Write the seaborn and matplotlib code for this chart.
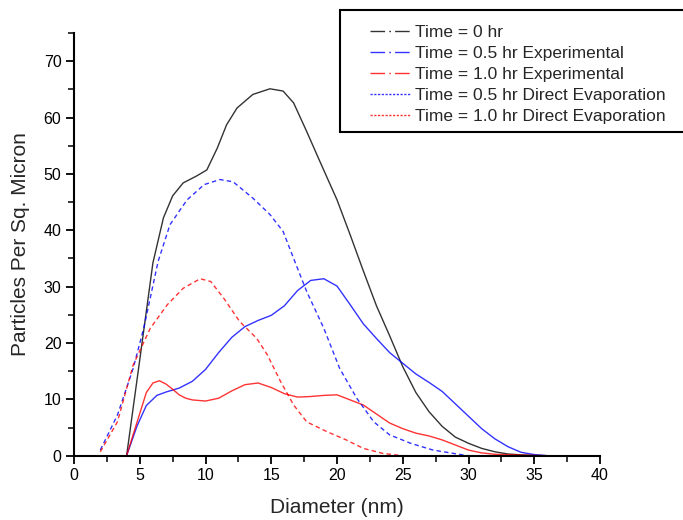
import matplotlib
matplotlib.use("Agg")
import matplotlib.pyplot as plt
from matplotlib.lines import Line2D
from matplotlib.patches import Rectangle
from matplotlib.ticker import MultipleLocator
import seaborn as sns
import pandas as pd

# ---- data ----
x_black = [4, 5, 6, 6.8, 7.5, 8.3, 9.3, 10.1, 10.9, 11.6, 12.4, 13.6, 14.9, 15.9, 16.7,
           17.7, 18.7, 20, 21, 22, 23, 24, 25, 26, 27, 28, 29, 30, 31, 32, 33, 34, 35, 36]
y_black = [0, 17, 34.2, 42.2, 46.1, 48.4, 49.6, 50.7, 54.6, 58.7, 61.7, 64.1, 65.1, 64.7,
           62.6, 57.5, 52.2, 45.4, 39.2, 32.8, 26.6, 21.3, 15.8, 11.2, 7.8, 5.2, 3.3, 2.2,
           1.3, 0.7, 0.3, 0.15, 0.05, 0]

x_blue = [4, 4.8, 5.5, 6.3, 7, 8, 9, 10, 11, 12, 13, 14, 15, 16, 17, 18, 19, 20, 21, 22,
          23, 24, 25, 26, 27, 28, 29, 30, 31, 32, 33, 34, 35, 36]
y_blue = [0, 5.3, 8.9, 10.7, 11.3, 12.0, 13.2, 15.3, 18.3, 21.0, 22.9, 24.0, 24.9, 26.6,
          29.3, 31.1, 31.4, 30.1, 26.8, 23.4, 20.8, 18.3, 16.4, 14.5, 13.0, 11.4, 9.2, 7.0,
          4.8, 3.0, 1.6, 0.6, 0.2, 0]

x_red = [4, 4.8, 5.5, 6, 6.5, 7, 7.5, 8, 8.5, 9, 10, 11, 12, 13, 14, 15, 16, 17, 18, 19,
         20, 21, 22, 23, 24, 25, 26, 27, 28, 29, 30, 31, 32, 34, 36]
y_red = [0, 6, 11.2, 12.9, 13.3, 12.7, 11.8, 10.8, 10.2, 9.9, 9.7, 10.2, 11.5, 12.6, 12.9,
         12.1, 11.0, 10.4, 10.5, 10.7, 10.8, 9.9, 9.0, 7.4, 5.8, 4.8, 4.0, 3.5, 2.8, 1.9,
         1.0, 0.5, 0.25, 0.1, 0]

x_blue_de = [2, 3.3, 4.5, 5.3, 6.4, 7.3, 8.6, 9.9, 11.1, 12.1, 13.6, 14.9, 15.9, 16.6,
             17.7, 19, 20.2, 21.5, 22.8, 24, 25.6, 27.3, 29.4, 30]
y_blue_de = [1.0, 7.2, 15.5, 22.6, 34.5, 41.0, 45.4, 48.1, 49.0, 48.6, 45.7, 42.8, 39.8,
             35.6, 29.1, 22.6, 15.5, 10.2, 6.0, 3.7, 2.2, 1.0, 0.2, 0]

x_red_de = [2, 3.3, 4.5, 5.8, 7.1, 8.3, 9.6, 10.4, 11.4, 12.6, 13.9, 14.7, 15.7, 16.7,
            17.7, 19.2, 20.7, 22, 23.5, 25]
y_red_de = [0.7, 6.0, 16.1, 22.6, 26.8, 29.7, 31.4, 30.9, 27.9, 23.8, 20.8, 17.9, 13.2,
            9.0, 6.0, 4.3, 2.8, 1.3, 0.4, 0]

labels = ["Time = 0 hr",
          "Time = 0.5 hr Experimental",
          "Time = 1.0 hr Experimental",
          "Time = 0.5 hr Direct Evaporation",
          "Time = 1.0 hr Direct Evaporation"]

series = [(x_black, y_black, labels[0], "#000000", "solid"),
          (x_blue, y_blue, labels[1], "#0000ff", "solid"),
          (x_red, y_red, labels[2], "#ff0000", "solid"),
          (x_blue_de, y_blue_de, labels[3], "#0000ff", "dashed"),
          (x_red_de, y_red_de, labels[4], "#ff0000", "dashed")]

sns.set_theme(style="ticks")
plt.rcParams["font.family"] = ["Liberation Sans", "DejaVu Sans"]

fig = plt.figure(figsize=(6.83, 5.2), dpi=100)
ax = fig.add_axes([74 / 683, 1 - 455.7 / 520, (600 - 74) / 683, (455.7 - 33) / 520])

for xs, ys, lab, col, ls in series:
    df = pd.DataFrame({"x": xs, "y": ys})
    if ls == "dashed":
        sns.lineplot(data=df, x="x", y="y", ax=ax, color=col, linestyle=(0, (3.2, 2.3)),
                     estimator=None, sort=False, lw=1.0, alpha=0.8)
    else:
        sns.lineplot(data=df, x="x", y="y", ax=ax, color=col, estimator=None, sort=False,
                     lw=1.0, alpha=0.8)

ax.set_xlim(0, 40)
ax.set_ylim(0, 75)
ax.xaxis.set_major_locator(MultipleLocator(5))
ax.xaxis.set_minor_locator(MultipleLocator(2.5))
ax.yaxis.set_major_locator(MultipleLocator(10))
ax.yaxis.set_minor_locator(MultipleLocator(5))
ax.tick_params(axis="both", which="major", direction="out", length=6, width=1.3,
               labelsize=11.5, colors="black", pad=3)
ax.tick_params(axis="both", which="minor", direction="out", length=4, width=1.3)
for s in ["top", "right"]:
    ax.spines[s].set_visible(False)
for s in ["left", "bottom"]:
    ax.spines[s].set_linewidth(1.5)
    ax.spines[s].set_color("black")

ax.set_xlabel("Diameter (nm)", fontsize=15, labelpad=11)
ax.set_ylabel("Particles Per Sq. Micron", fontsize=15, labelpad=10)

dashdot = (0, (10.5, 3.0, 1.2, 3.0))
dotted = (0, (1.6, 1.1))
handles = [
    Line2D([], [], color="#000000", lw=1.0, alpha=0.8, linestyle=dashdot),
    Line2D([], [], color="#0000ff", lw=1.0, alpha=0.8, linestyle=dashdot),
    Line2D([], [], color="#ff0000", lw=1.0, alpha=0.8, linestyle=dashdot),
    Line2D([], [], color="#0000ff", lw=1.0, alpha=0.8, linestyle=dotted),
    Line2D([], [], color="#ff0000", lw=1.0, alpha=0.8, linestyle=dotted),
]

# legend frame (extends past the right edge as in the reference)
fig.patches.append(Rectangle((340 / 683, 1 - 132 / 520), (700 - 340) / 683, (132 - 10) / 520,
                             transform=fig.transFigure, fill=True, facecolor="white",
                             edgecolor="black", linewidth=1.5, zorder=5))
leg = fig.legend(handles, labels, loc="upper left",
                 bbox_to_anchor=(370 / 683, 1 - 25 / 520),
                 frameon=False, fontsize=12.5,
                 handlelength=2.3, handletextpad=0.3, labelspacing=0.33,
                 borderpad=0, borderaxespad=0)
leg.set_zorder(6)

fig.savefig("out.png", dpi=100)
